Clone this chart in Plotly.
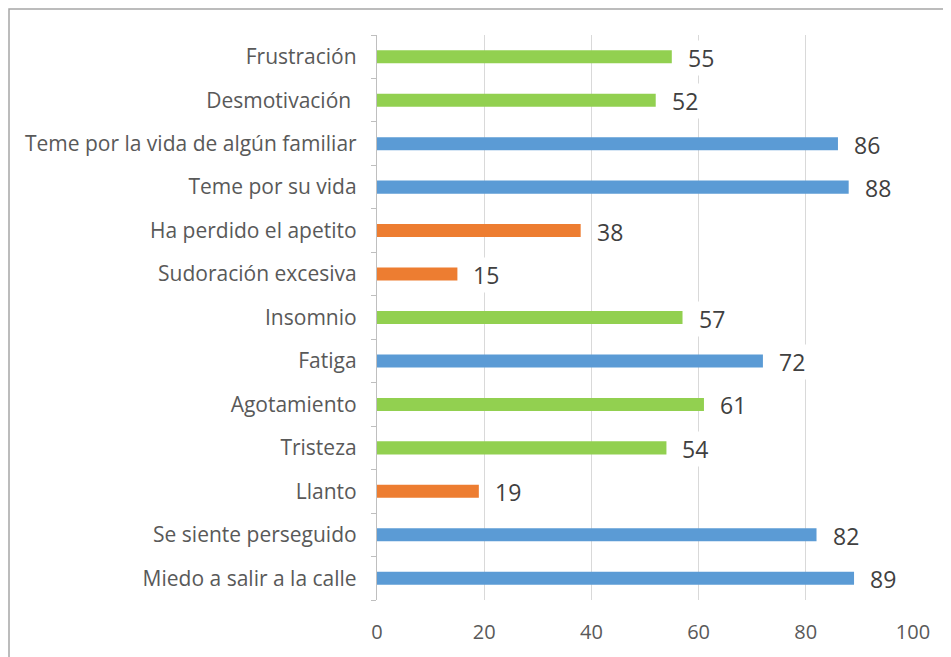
import plotly.graph_objects as go

categories = ["Miedo a salir a la calle", "Se siente perseguido", "Llanto", "Tristeza",
              "Agotamiento", "Fatiga", "Insomnio", "Sudoración excesiva",
              "Ha perdido el apetito", "Teme por su vida",
              "Teme por la vida de algún familiar", "Desmotivación ", "Frustración"]
values = [89, 82, 19, 54, 61, 72, 57, 15, 38, 88, 86, 52, 55]
groups = ["blue", "blue", "orange", "green", "green", "blue", "green", "orange",
          "orange", "blue", "blue", "green", "green"]

palette = {"blue": "#5B9BD5", "orange": "#ED7D31", "green": "#92D050"}
font = "Open Sans, Calibri, sans-serif"

# the page puts the figure 8px in from the top-left corner
L, R, T, B = 369, 46, 27, 65
pw, ph = 951 - L - R, 657 - T - B

fig = go.Figure()
fig.add_trace(go.Bar(
    x=values, y=categories, orientation="h",
    marker=dict(color=[palette[g] for g in groups], line=dict(width=0)),
    width=0.3, hoverinfo="x+y"))

for c, v in zip(categories, values):
    fig.add_annotation(x=v, y=c, text=str(v), showarrow=False, xanchor="left",
                       xshift=14, yshift=-1, bgcolor="white", borderpad=1,
                       font=dict(family=font, size=23, color="#404040"))

fig.update_layout(
    width=951, height=657,
    paper_bgcolor="white", plot_bgcolor="white",
    margin=dict(l=L, r=R, t=T, b=B),
    showlegend=False,
    font=dict(family=font, size=18, color="#595959"),
    xaxis=dict(range=[0, 100], dtick=20, showgrid=True, gridcolor="#d9d9d9",
               gridwidth=1.3, zeroline=False, showline=False, ticks="",
               ticklabelstandoff=18,
               tickfont=dict(size=20, color="#595959")),
    yaxis=dict(type="category", categoryorder="array", categoryarray=categories,
               showline=True, linecolor="#bfbfbf", linewidth=1.3,
               ticks="outside", tickson="boundaries", tickcolor="#bfbfbf",
               ticklen=5, ticklabelstandoff=15, showgrid=False,
               tickfont=dict(size=21, color="#595959")),
)

fig.add_shape(type="rect", xref="paper", yref="paper",
              x0=(1 - L) / pw, x1=(960 - L) / pw,
              y0=(ph + T - 700) / ph, y1=(ph + T - 1) / ph,
              line=dict(color="#a6a6a6", width=1.5), layer="below")

fig.write_html("out.html")
